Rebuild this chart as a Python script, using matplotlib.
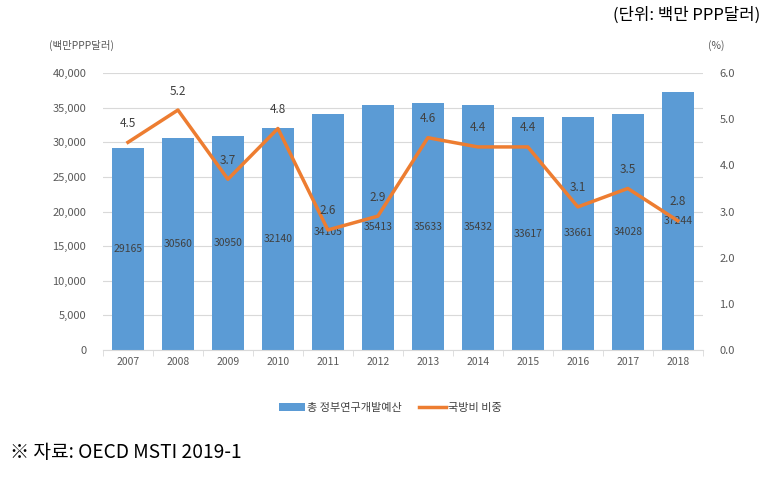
import matplotlib
matplotlib.use("Agg")
import matplotlib.pyplot as plt
from matplotlib.ticker import FuncFormatter

plt.rcParams['font.family'] = ['Noto Sans CJK KR', 'DejaVu Sans']

# Data
years = ['2007', '2008', '2009', '2010', '2011', '2012',
         '2013', '2014', '2015', '2016', '2017', '2018']
budget = [29165, 30560, 30950, 32140, 34105, 35413,
          35633, 35432, 33617, 33661, 34028, 37244]
defense_share = [4.5, 5.2, 3.7, 4.8, 2.6, 2.9, 4.6, 4.4, 4.4, 3.1, 3.5, 2.8]

bar_color = '#5B9BD5'
line_color = '#ED7D31'
tick_color = '#595959'

fig = plt.figure(figsize=(7.8, 4.78), dpi=100)
ax1 = fig.add_axes([0.132, 0.268, 0.769, 0.579])
ax2 = ax1.twinx()

x = list(range(len(years)))
bars = ax1.bar(x, budget, width=0.63, color=bar_color, zorder=2,
               label='총 정부연구개발예산')
ax1.bar_label(bars, labels=[str(v) for v in budget], label_type='center',
              fontsize=7.5, color='#404040')

ax1.set_ylim(0, 40000)
ax1.set_yticks(range(0, 40001, 5000))
ax1.yaxis.set_major_formatter(FuncFormatter(lambda v, p: f'{int(v):,}'))
ax1.set_xlim(-0.5, len(years) - 0.5)
ax1.set_xticks(x)
ax1.set_xticklabels(years)
ax1.grid(axis='y', color='#D9D9D9', linewidth=0.8, zorder=0)
ax1.set_axisbelow(True)

line, = ax2.plot(x, defense_share, color=line_color, linewidth=2.5,
                 label='국방비 비중', zorder=3)
for xi, v in zip(x, defense_share):
    ax2.annotate(f'{v:.1f}', (xi, v), xytext=(0, 9), textcoords='offset points',
                 ha='center', va='bottom', fontsize=8.5, color='#404040')
ax2.set_ylim(0, 6)
ax2.set_yticks([0, 1, 2, 3, 4, 5, 6])
ax2.yaxis.set_major_formatter(FuncFormatter(lambda v, p: f'{v:.1f}'))

for ax in (ax1, ax2):
    for s in ax.spines.values():
        s.set_visible(False)
    ax.tick_params(axis='y', length=0, labelsize=8, labelcolor=tick_color, pad=12)
ax1.spines['bottom'].set_visible(True)
ax1.spines['bottom'].set_color('#D9D9D9')
ax1.tick_params(axis='x', length=4, color='#D9D9D9', labelsize=7.5,
                labelcolor=tick_color, pad=5)
ax1.set_xticks([i + 0.5 for i in range(-1, len(years))], minor=True)
ax1.tick_params(axis='x', which='minor', length=4, color='#D9D9D9')
ax1.tick_params(axis='x', which='major', length=0)

# Axis unit labels
fig.text(0.063, 0.905, '(백만PPP달러)', fontsize=7.5, color=tick_color, va='center')
fig.text(0.908, 0.905, '(%)', fontsize=7.5, color=tick_color, va='center')
fig.text(0.975, 0.968, '(단위: 백만 PPP달러)', fontsize=12, color='black',
         ha='right', va='center')

# Legend
fig.legend(handles=[bars, line], loc='center', bbox_to_anchor=(0.5, 0.147),
           ncol=2, frameon=False, fontsize=8, handlelength=2.4,
           handletextpad=0.2, columnspacing=1.5, labelcolor='#404040')

fig.text(0.013, 0.053, '※ 자료: OECD MSTI 2019-1', fontsize=13.8, color='black',
         va='center')

fig.savefig('out.png', dpi=100)
